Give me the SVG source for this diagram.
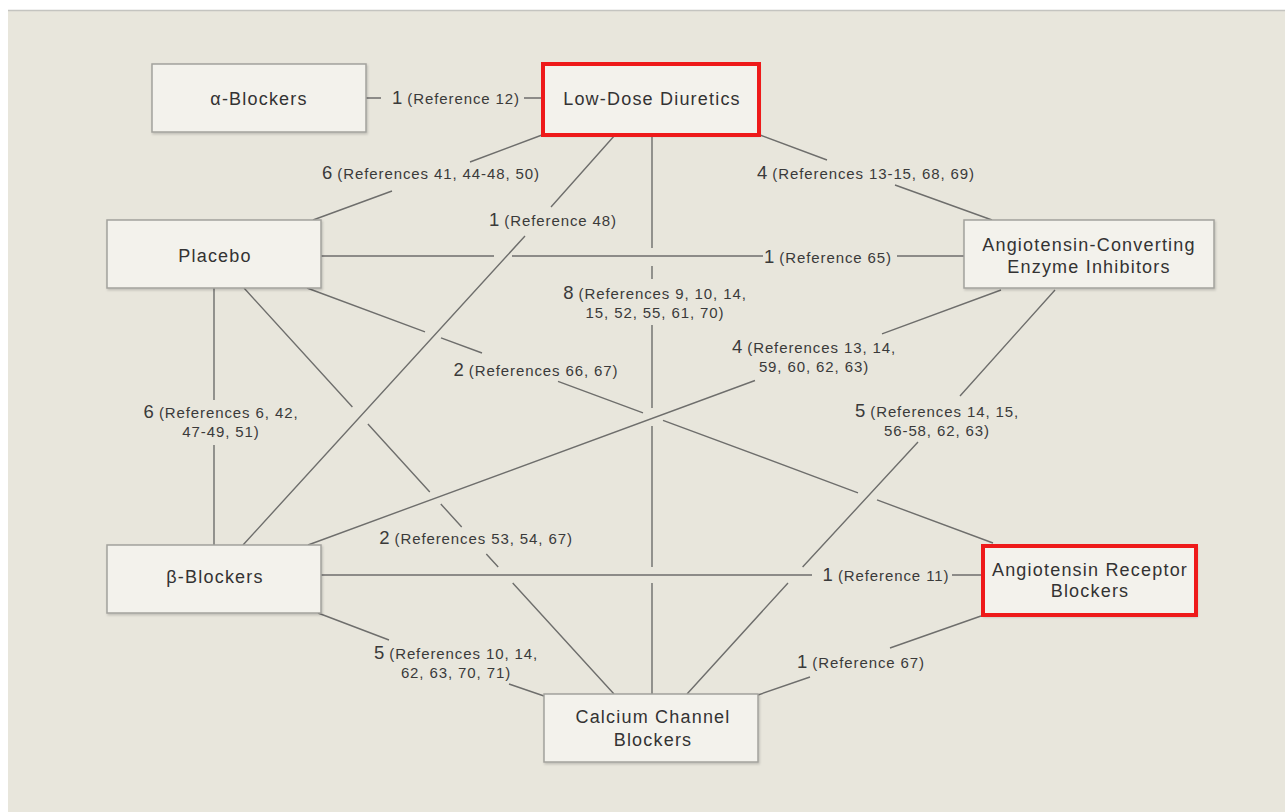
<svg xmlns="http://www.w3.org/2000/svg" width="1285" height="812" viewBox="0 0 1285 812">
  <defs>
    <filter id="sh" x="-5%" y="-5%" width="115%" height="125%">
      <feDropShadow dx="1" dy="1.5" stdDeviation="1" flood-color="#000" flood-opacity="0.18"/>
    </filter>
    <style>
      .page { fill: #ffffff; }
      .bg { fill: #e8e6dc; }
      .topline { stroke: #c4c4c0; stroke-width: 1.5; }
      .box { fill: #f3f2ec; stroke: #a3a29d; stroke-width: 1.5; filter: url(#sh); }
      .hl { fill: none; stroke: #ee1a1a; stroke-width: 4; }
      .edge { fill: none; stroke: #6e6e6c; stroke-width: 1.4; }
      .nt { font-family: "Liberation Sans", Arial, sans-serif; font-size: 18px; letter-spacing: 1.2px; fill: #333333; text-anchor: middle; }
      .lt { font-family: "Liberation Sans", Arial, sans-serif; font-size: 15px; letter-spacing: 0.9px; fill: #3a3a3a; text-anchor: middle; }
      .num { font-size: 18.5px; letter-spacing: 0; }
    </style>
  </defs>

  <rect class="page" x="0" y="0" width="1285" height="812"/>
  <rect class="bg" x="8" y="10" width="1277" height="802"/>
  <line class="topline" x1="8" y1="10.5" x2="1285" y2="10.5"/>

  <g id="connectors">
    <path id="e-alpha-ldd" class="edge" d="M366,98 L381,98 M524,98 L542,98"/>
    <path id="e-ldd-placebo" class="edge" d="M542,135 L470,162 M392,191 L313,220"/>
    <path id="e-ldd-beta" class="edge" d="M615,135 L551,207 M525,236 L243,545"/>
    <path id="e-ldd-ccb" class="edge" d="M652,135 L652,248 M652,266 L652,279 M652,325 L652,408 M652,426 L652,567 M652,583 L652,694"/>
    <path id="e-ldd-ace" class="edge" d="M760,135 L827,160 M895,185 L992,220"/>
    <path id="e-placebo-ace" class="edge" d="M321,256 L494,256 M512,256 L763,256 M897,256 L964,256"/>
    <path id="e-placebo-beta" class="edge" d="M214,288 L214,400 M214,445 L214,545"/>
    <path id="e-placebo-ccb" class="edge" d="M244,288 L352.4,407 M367.9,424 L429.8,492 M440.8,504 L461.7,527 M486.3,554 L498.2,567 M512.7,583 L614,694"/>
    <path id="e-placebo-arb" class="edge" d="M307,288 L425,331.9 M441,337.8 L482,353 M558,381.3 L643,412.9 M663,420.3 L858,492.8 M877,499.9 L993,543"/>
    <path id="e-ace-beta" class="edge" d="M1001,290 L882,333.8 M755,380.5 L308,545"/>
    <path id="e-ace-ccb" class="edge" d="M1055,290 L960,396 M918,442 L802.6,567 M788,583 L687,694"/>
    <path id="e-beta-arb" class="edge" d="M321,575 L812,575 M952,575 L981,575"/>
    <path id="e-beta-ccb" class="edge" d="M318,613 L389,640 M509,684 L544,696"/>
    <path id="e-arb-ccb" class="edge" d="M981,616 L890,648 M810,677 L758,695"/>
  </g>

  <g id="edge-labels">
    <text class="lt" x="456" y="104"><tspan class="num">1</tspan> (Reference 12)</text>
    <text class="lt" x="431" y="179"><tspan class="num">6</tspan> (References 41, 44-48, 50)</text>
    <text class="lt" x="553" y="226"><tspan class="num">1</tspan> (Reference 48)</text>
    <text class="lt" x="866" y="179"><tspan class="num">4</tspan> (References 13-15, 68, 69)</text>
    <text class="lt" x="828" y="263"><tspan class="num">1</tspan> (Reference 65)</text>
    <text class="lt" x="655" y="299"><tspan class="num">8</tspan> (References 9, 10, 14,</text>
    <text class="lt" x="655" y="318">15, 52, 55, 61, 70)</text>
    <text class="lt" x="221" y="418"><tspan class="num">6</tspan> (References 6, 42,</text>
    <text class="lt" x="221" y="437">47-49, 51)</text>
    <text class="lt" x="536" y="376"><tspan class="num">2</tspan> (References 66, 67)</text>
    <text class="lt" x="814" y="353"><tspan class="num">4</tspan> (References 13, 14,</text>
    <text class="lt" x="814" y="372">59, 60, 62, 63)</text>
    <text class="lt" x="937" y="417"><tspan class="num">5</tspan> (References 14, 15,</text>
    <text class="lt" x="937" y="436">56-58, 62, 63)</text>
    <text class="lt" x="476" y="544"><tspan class="num">2</tspan> (References 53, 54, 67)</text>
    <text class="lt" x="886" y="581"><tspan class="num">1</tspan> (Reference 11)</text>
    <text class="lt" x="456" y="659"><tspan class="num">5</tspan> (References 10, 14,</text>
    <text class="lt" x="456" y="678">62, 63, 70, 71)</text>
    <text class="lt" x="861" y="668"><tspan class="num">1</tspan> (Reference 67)</text>
  </g>

  <g id="node-alpha">
    <rect class="box" x="152" y="64" width="214" height="68"/>
    <text class="nt" x="259" y="104.5">α-Blockers</text>
  </g>
  <g id="node-ldd">
    <rect class="box" x="544" y="64" width="214" height="70"/>
    <rect class="hl" x="543" y="64" width="216" height="71"/>
    <text class="nt" x="652" y="105">Low-Dose Diuretics</text>
  </g>
  <g id="node-placebo">
    <rect class="box" x="107" y="220" width="214" height="68"/>
    <text class="nt" x="215" y="262">Placebo</text>
  </g>
  <g id="node-ace">
    <rect class="box" x="964" y="220" width="250" height="68"/>
    <text class="nt" x="1089" y="251">Angiotensin-Converting</text>
    <text class="nt" x="1089" y="273">Enzyme Inhibitors</text>
  </g>
  <g id="node-beta">
    <rect class="box" x="107" y="545" width="214" height="68"/>
    <text class="nt" x="215" y="583">β-Blockers</text>
  </g>
  <g id="node-arb">
    <rect class="box" x="983" y="546" width="213" height="69"/>
    <rect class="hl" x="983" y="546" width="213" height="69"/>
    <text class="nt" x="1090" y="576">Angiotensin Receptor</text>
    <text class="nt" x="1090" y="597">Blockers</text>
  </g>
  <g id="node-ccb">
    <rect class="box" x="544" y="694" width="214" height="68"/>
    <text class="nt" x="653" y="723">Calcium Channel</text>
    <text class="nt" x="653" y="746">Blockers</text>
  </g>
</svg>
